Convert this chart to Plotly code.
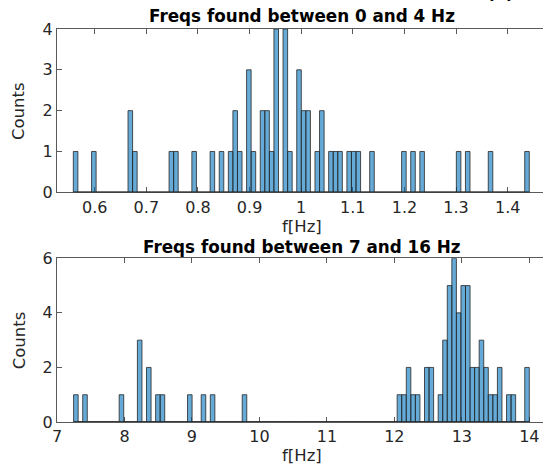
import numpy as np
import plotly.graph_objects as go

# ---------------- data ----------------
# histogram 1: 100 bins between these edges
top_bin_start = 0.55855
top_bin_end = 1.44184
top_nonzero = {0: 1, 4: 1, 12: 2, 13: 1, 21: 1, 22: 1, 26: 1, 30: 1, 32: 1, 34: 1,
               35: 2, 36: 1, 38: 3, 39: 1, 41: 2, 42: 2, 43: 1, 44: 4, 46: 4, 47: 1,
               49: 3, 50: 2, 51: 2, 53: 1, 54: 2, 56: 1, 57: 1, 58: 1, 60: 1, 61: 1,
               62: 1, 65: 1, 72: 1, 74: 1, 76: 1, 84: 1, 86: 1, 91: 1, 99: 1}
top_counts = [top_nonzero.get(i, 0) for i in range(100)]

# histogram 2
bot_bin_start = 7.246
bot_bin_end = 14.0
bot_nonzero = {0: 1, 2: 1, 10: 1, 14: 3, 16: 2, 18: 1, 19: 1, 25: 1, 28: 1, 30: 1,
               37: 1, 71: 1, 72: 1, 73: 2, 74: 1, 75: 1, 77: 2, 78: 2, 80: 1, 81: 3,
               82: 5, 83: 6, 84: 4, 85: 5, 86: 5, 87: 2, 88: 2, 89: 3, 90: 2, 91: 1,
               92: 1, 93: 2, 95: 1, 96: 1, 99: 2}
bot_counts = [bot_nonzero.get(i, 0) for i in range(100)]

top_xticks = [0.6, 0.7, 0.8, 0.9, 1.0, 1.1, 1.2, 1.3, 1.4]
top_xticktext = ["0.6", "0.7", "0.8", "0.9", "1", "1.1", "1.2", "1.3", "1.4"]
top_yticks = [0, 1, 2, 3, 4]
bot_xticks = [7, 8, 9, 10, 11, 12, 13, 14]
bot_yticks = [0, 2, 4, 6]

top_title = "Freqs found between 0 and 4 Hz"
bot_title = "Freqs found between 7 and 16 Hz"
xlabel = "f[Hz]"
ylabel = "Counts"

# ---------------- figure ----------------
W, H = 543, 468
ML, MR, MT, MB = 57, 0, 29, 46
PW, PH = W - ML - MR, H - MT - MB

def px(p):
    return (p - ML) / PW

def py(p):
    return (H - MB - p) / PH

FACE = "rgba(0,114,189,0.6)"
EDGE = "#262626"
AX = "#5a5a5a"
TXT = "#262626"
FONT = "DejaVu Sans"

fig = go.Figure()

def add_hist(counts, start, end, xa, ya):
    edges = np.linspace(start, end, len(counts) + 1)
    centers = (edges[:-1] + edges[1:]) / 2
    w = edges[1] - edges[0]
    fig.add_trace(go.Bar(x=centers, y=counts, width=[w] * len(counts),
                         marker=dict(color=FACE, line=dict(color=EDGE, width=0.8)),
                         xaxis=xa, yaxis=ya, showlegend=False, hoverinfo="skip"))
    fig.add_trace(go.Scatter(x=[edges[0], edges[-1]], y=[0, 0], mode="lines",
                             line=dict(color=EDGE, width=1.6), cliponaxis=False,
                             xaxis=xa, yaxis=ya, showlegend=False, hoverinfo="skip"))

add_hist(top_counts, top_bin_start, top_bin_end, "x", "y")
add_hist(bot_counts, bot_bin_start, bot_bin_end, "x2", "y2")

axis_common = dict(showgrid=False, zeroline=False, showline=True, linecolor=AX,
                   linewidth=1, ticks="inside", ticklen=5, tickcolor=AX, tickwidth=1,
                   tickfont=dict(family=FONT, size=16, color=TXT), layer="below traces")

top_dom = [py(192.3), 1.0]
bot_dom = [0.0, py(258.3)]

fig.update_layout(
    width=W, height=H, margin=dict(l=ML, r=MR, t=MT, b=MB, pad=0),
    paper_bgcolor="white", plot_bgcolor="white",
    barmode="overlay",
    xaxis=dict(axis_common, domain=[0, 1], anchor="y", range=[0.52694, 1.46841],
               tickvals=top_xticks, ticktext=top_xticktext, mirror="ticks"),
    yaxis=dict(axis_common, domain=top_dom, anchor="x", range=[0, 4],
               tickvals=top_yticks, mirror=False),
    xaxis2=dict(axis_common, domain=[0, 1], anchor="y2", range=[7.0, 14.2029],
                tickvals=bot_xticks, mirror="ticks"),
    yaxis2=dict(axis_common, domain=bot_dom, anchor="x2", range=[0, 6],
                tickvals=bot_yticks, mirror=False),
)

def ann(text, x, y, size, bold=False, angle=0):
    fig.add_annotation(text=text, x=px(x), y=py(y), xref="paper", yref="paper",
                       xanchor="center", yanchor="middle", showarrow=False,
                       textangle=angle,
                       font=dict(family=FONT, size=size, color="black" if bold else TXT,
                                 weight=700 if bold else 400))

ann(top_title, 302, 16.4, 16.8, bold=True)
ann(bot_title, 302, 246.9, 16.8, bold=True)
ann(xlabel, 301.7, 227.0, 16.5)
ann(xlabel, 301.7, 455.0, 16.5)
ann(ylabel, 19.3, 110.8, 16.5, angle=-90)
ann(ylabel, 19.3, 340.0, 16.5, angle=-90)
ann("(a)", 500, -7.0, 16.8, bold=True)

fig.write_html("out.html")
